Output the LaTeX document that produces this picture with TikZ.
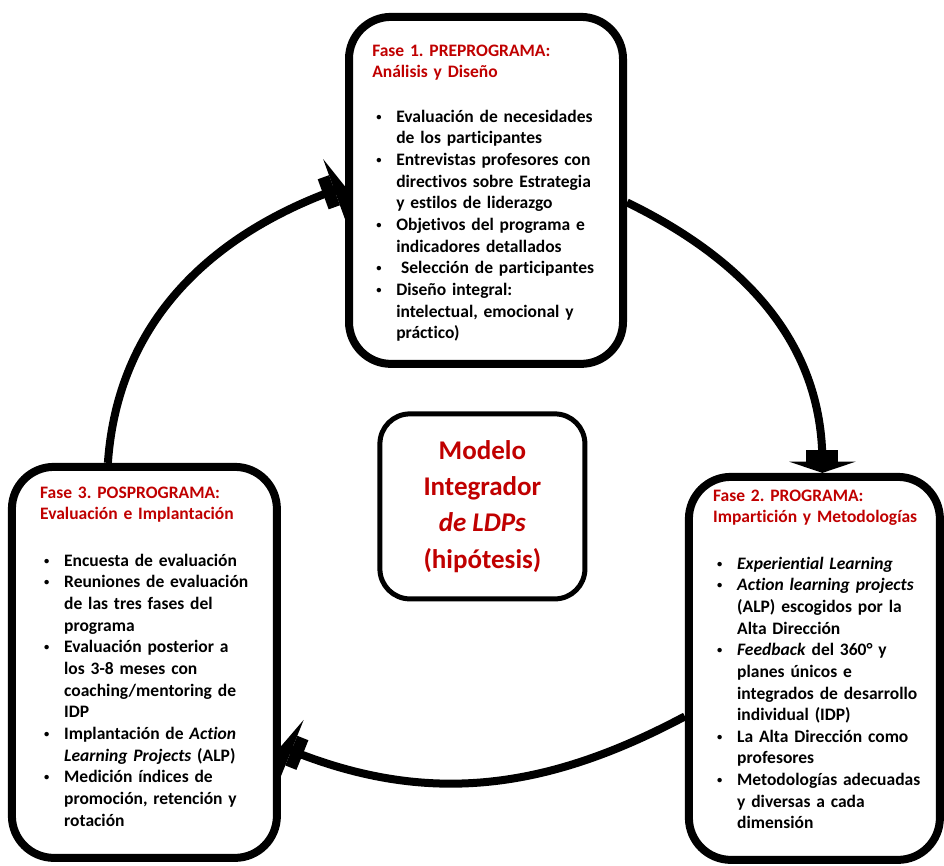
\documentclass[tikz,border=0pt]{standalone}
\usepackage{fontspec}
\setmainfont{Carlito}[Ligatures=NoCommon]
\usepackage{tikz}
\usetikzlibrary{positioning, calc, arrows.meta}
\definecolor{fasered}{RGB}{192,0,0}
\setlength{\parskip}{0pt}
\frenchspacing
\newcommand{\bul}{\par\hangindent=0.6cm\hangafter=1\noindent
    \makebox[0.6cm][l]{\hspace{0.1cm}\raisebox{0.12em}{\scalebox{0.6}{\textbullet}}}}

\begin{document}
\begin{tikzpicture}[
    % Styles
    fase/.style={draw, line width=0.2cm, rounded corners=1.05cm, fill=white},
    fasetxt/.style={anchor=north west, inner sep=0pt, text width=6.4cm,
        align=left, font=\fontsize{12.45}{15.4}\selectfont\bfseries},
    modelo/.style={draw, line width=0.125cm, rounded corners=0.75cm,
        minimum width=5.125cm, minimum height=4.625cm, align=center,
        text=fasered, font=\fontsize{19.2}{25.8}\selectfont\bfseries},
    cyc/.style={line width=0.2cm,
        -{Rectangle[length=0.3cm, width=0.8cm, sep=0pt] Triangle[length=0.28cm, width=1.65cm]}},
]
\useasboundingbox (0,0) rectangle (23.6,21.65);

% ===== Phase boxes =====
\node[fase, minimum width=6.85cm, minimum height=8.675cm] (f1) at (12.15,16.89) {};
\node[fase, minimum width=6.275cm, minimum height=9.575cm] (f2) at (20.36,4.94) {};
\node[fase, minimum width=6.625cm, minimum height=9.775cm] (f3) at (3.61,5.09) {};

% ===== Central box =====
\node[modelo] (model) at (12.06,8.99)
    {Modelo\\Integrador\\\textit{de LDPs}\\(hipótesis)};

% --- Fase 1 ---
\node[fasetxt] (t1) at ($(f1.north west)+(0.675,-0.79)$)
    {{\color{fasered}Fase 1. PREPROGRAMA:\newline Análisis y Diseño}\par
     \vspace{0.57cm}
     \bul Evaluación de necesidades\newline de los participantes
     \bul Entrevistas profesores con\newline directivos sobre Estrategia\newline y estilos de liderazgo
     \bul Objetivos del programa e\newline indicadores detallados
     \bul \hspace{0.12cm}Selección de participantes
     \bul Diseño integral:\newline intelectual, emocional y\newline práctico)\par};

% --- Fase 2 ---
\node[fasetxt] (t2) at ($(f2.north west)+(0.7,-0.41)$)
    {{\color{fasered}Fase 2. PROGRAMA:\newline Impartición y Metodologías}\par
     \vspace{0.62cm}
     \bul \textit{Experiential Learning}
     \bul \textit{Action learning projects}\newline (ALP) escogidos por la\newline Alta Dirección
     \bul \textit{Feedback} del 360° y\newline planes únicos e\newline integrados de desarrollo\newline individual (IDP)
     \bul La Alta Dirección como\newline profesores
     \bul Metodologías adecuadas\newline y diversas a cada\newline dimensión\par};

% --- Fase 3 ---
\node[fasetxt] (t3) at ($(f3.north west)+(0.8,-0.59)$)
    {{\color{fasered}Fase 3. POSPROGRAMA:\newline Evaluación e Implantación}\par
     \vspace{0.62cm}
     \bul Encuesta de evaluación
     \bul Reuniones de evaluación\newline de las tres fases del\newline programa
     \bul Evaluación posterior a\newline los 3-8 meses con\newline coaching/mentoring de\newline IDP
     \bul Implantación de \textit{Action}\newline \textit{Learning Projects} (ALP)
     \bul Medición índices de\newline promoción, retención y\newline rotación\par};

% ===== Cycle arrows =====
\draw[cyc] ([xshift=2.5cm]f3.north west) to[out=86, in=200] ([yshift=0.1cm]f1.west);
\draw[cyc] ([yshift=-0.3cm]f1.east) to[out=-26, in=90] ([xshift=0.2cm]f2.north);
\draw[cyc] ([yshift=-1.2cm]f2.west) to[out=208, in=-22] ([yshift=-2.1cm]f3.east);

\end{tikzpicture}
\end{document}
